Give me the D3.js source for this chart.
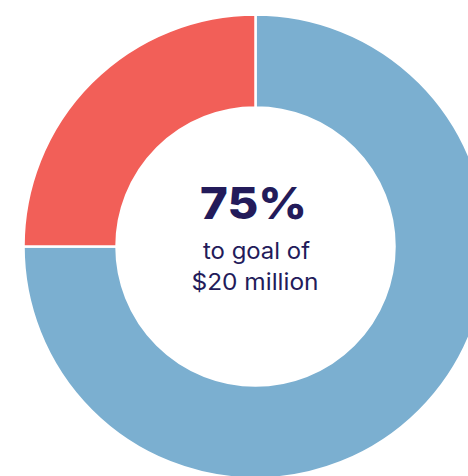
<!DOCTYPE html>
<html>
<head>
<meta charset="utf-8">
<script src="https://cdn.jsdelivr.net/npm/d3@7"></script>
<style>
  html, body { margin: 0; padding: 0; background: #fff; }
  svg { display: block; }
</style>
</head>
<body>
<script>
const segments = ["Raised", "Remaining"];
const shares = [75, 25];
const colors = ["#7BAFD0", "#F25F58"];
const headline = "75%";
const subLines = ["to goal of", "$20 million"];

const width = 468, height = 476;
const cx = 255.5, cy = 246.5;
const outerR = 232, innerR = 139;

const svg = d3.select("body").append("svg")
    .attr("width", width)
    .attr("height", height);

const g = svg.append("g")
    .attr("transform", `translate(${cx},${cy})`);

const color = d3.scaleOrdinal().domain(segments).range(colors);

const pie = d3.pie().sort(null).value(d => d.value);
const arc = d3.arc().innerRadius(innerR).outerRadius(outerR);

const data = segments.map((s, i) => ({ name: s, value: shares[i] }));

g.selectAll("path")
    .data(pie(data))
    .enter().append("path")
    .attr("d", arc)
    .attr("fill", d => color(d.data.name))
    .attr("stroke", "#fff")
    .attr("stroke-width", 2.5);

// center label, glyphs stretched a little to match the wider original face
g.append("text")
    .attr("x", -2)
    .attr("y", -27.2)
    .attr("text-anchor", "middle")
    .attr("font-family", "Inter, sans-serif")
    .attr("font-weight", 800)
    .attr("font-size", 44)
    .attr("fill", "#231B5A")
    .attr("textLength", 107)
    .attr("lengthAdjust", "spacingAndGlyphs")
    .text(headline);

const subWidths = [107, 127];
g.selectAll(".sub")
    .data(subLines)
    .enter().append("text")
    .attr("class", "sub")
    .attr("x", (d, i) => i ? -0.5 : 1)
    .attr("y", (d, i) => 12.8 + i * 31)
    .attr("text-anchor", "middle")
    .attr("font-family", "Inter, sans-serif")
    .attr("font-size", 23)
    .attr("fill", "#231B5A")
    .attr("textLength", (d, i) => subWidths[i])
    .attr("lengthAdjust", "spacingAndGlyphs")
    .text(d => d);
</script>
</body>
</html>
